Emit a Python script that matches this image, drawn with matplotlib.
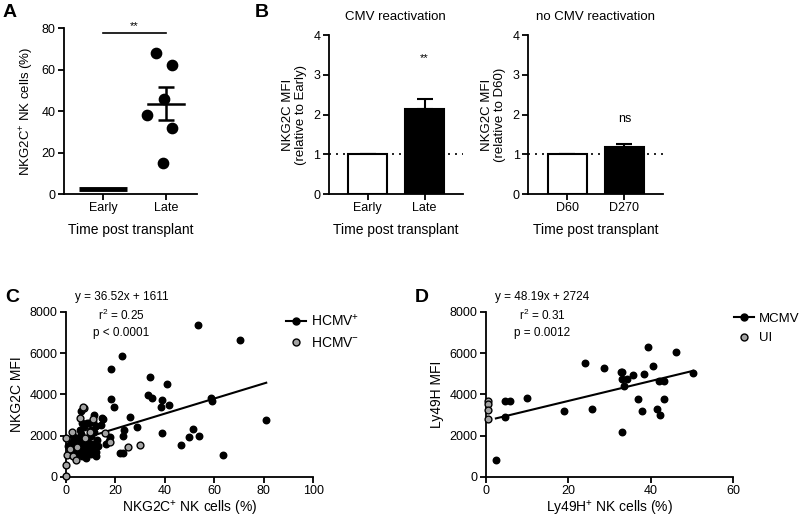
import matplotlib
matplotlib.use("Agg")
import numpy as np
import matplotlib.pyplot as plt
from matplotlib.lines import Line2D

plt.rcParams["font.family"] = ["Liberation Sans", "DejaVu Sans"]
plt.rcParams["mathtext.fontset"] = "custom"
plt.rcParams["mathtext.rm"] = "Liberation Sans"
plt.rcParams["mathtext.it"] = "Liberation Sans"
plt.rcParams["axes.linewidth"] = 1.3
plt.rcParams["xtick.major.width"] = 1.3
plt.rcParams["ytick.major.width"] = 1.3
plt.rcParams["xtick.major.size"] = 4
plt.rcParams["ytick.major.size"] = 4
plt.rcParams["xtick.labelsize"] = 9
plt.rcParams["ytick.labelsize"] = 9

# ---- data ----
# A: % NKG2C+ NK cells
a_groups = ["Early", "Late"]
a_early = [2.2, 2.4, 2.6, 2.8, 2.3, 2.7]
a_late = [68, 62, 46, 38, 32, 15]
a_late_jitter = [-0.16, 0.10, -0.03, -0.30, 0.10, -0.05]

# B: relative NKG2C MFI
b1_groups = ["Early", "Late"]
b1_means = [1.0, 2.15]
b1_err = [0.0, 0.23]
b2_groups = ["D60", "D270"]
b2_means = [1.0, 1.18]
b2_err = [0.0, 0.08]

# C: HCMV+ / HCMV- donors
c_pos_x = [53.3, 22.8, 34.0, 40.9, 33.2, 34.7, 39.0, 38.3, 41.5, 58.7, 59.0,
           25.9, 23.6, 23.2, 28.9, 38.7, 51.5, 49.7, 53.8, 46.4, 23.0, 21.9,
           70.4, 81.0, 63.7, 18.1, 18.1, 19.6, 6.2, 11.2, 14.4, 15.1, 11.1,
           9.4, 12.1, 8.4, 7.3, 10.0, 17.8, 17.5,
           1.0, 2.0, 2.5, 3.0, 3.5, 4.0, 4.0, 4.5, 5.0, 5.0, 5.5, 6.0, 6.0,
           6.5, 7.0, 7.0, 7.5, 8.0, 8.0, 8.5, 9.0, 9.5, 10.0, 10.0, 10.5,
           11.0, 11.5, 12.0, 12.5, 13.0, 14.0, 6.5, 5.8, 3.0, 12.0, 9.0, 16.0]
c_pos_y = [7385, 5882, 4832, 4509, 3990, 3814, 3717, 3378, 3475, 3845, 3700,
           2924, 2279, 1988, 2439, 2149, 2327, 1955, 1988, 1537, 1178, 1178,
           6627, 2763, 1066, 5221, 3781, 3400, 3216, 3006, 2876, 2796, 2683,
           2602, 2489, 2602, 2440, 2280, 1955, 1745,
           1500, 1200, 1700, 1000, 1400, 1300, 1800, 1100, 1500, 1900, 1250,
           1600, 2100, 1000, 1350, 1750, 1200, 1500, 900, 1900, 1300, 1650,
           1100, 2000, 1400, 1600, 2200, 1200, 1800, 1500, 2500, 2600, 2300,
           2000, 1000, 1200, 1600]
c_neg_x = [2.4, 0.1, 0.4, 0.1, 0.0, 7.1, 5.8, 9.6, 1.7, 2.8, 7.8, 10.9,
           17.9, 15.6, 25.0, 30.0, 4.4, 3.9, 6.7]
c_neg_y = [2159, 1866, 1055, 600, 30, 3327, 2873, 2191, 1380, 1006, 1866,
           2792, 1704, 2110, 1461, 1542, 1460, 844, 3400]
c_fit = (36.52, 1611)

# D: MCMV-infected vs uninfected mice
d_pos_x = [2.4, 4.7, 5.8, 4.7, 10.0, 18.9, 25.8, 24.0, 28.7, 32.7, 33.1,
           32.9, 34.2, 35.8, 33.5, 38.4, 39.2, 40.6, 46.1, 42.1, 43.1, 50.3,
           36.9, 43.1, 37.9, 41.5, 42.3, 33.1]
d_pos_y = [824, 3699, 3699, 2923, 3845, 3200, 3282, 5527, 5300, 5105, 5105,
           4751, 4751, 4945, 4412, 4993, 6317, 5381, 6045, 4654, 4654, 5042,
           3766, 3766, 3185, 3297, 3006, 2182]
d_neg_x = [0.5, 0.5, 0.5, 0.5]
d_neg_y = [3680, 3550, 3250, 2800]
d_fit = (48.19, 2724)

GRAY = "#a3a3a3"

fig = plt.figure(figsize=(8.0, 5.21), dpi=100)


def style(ax):
    ax.spines["top"].set_visible(False)
    ax.spines["right"].set_visible(False)
    ax.tick_params(direction="out", colors="black", pad=2)


# ---- panel A ----
axA = fig.add_axes([0.080, 0.6276, 0.166, 0.3186])
style(axA)
m = np.mean(a_early)
axA.plot([-0.38, 0.38], [m, m], color="black", lw=3.5, solid_capstyle="butt")
late = np.array(a_late)
axA.scatter(1 + np.array(a_late_jitter), late, s=55, color="black", zorder=3)
lm = late.mean()
sem = late.std(ddof=1) / np.sqrt(len(late))
axA.plot([1 - 0.29, 1 + 0.29], [lm, lm], color="black", lw=1.8)
axA.errorbar([1], [lm], yerr=[sem], color="black", capsize=6, elinewidth=1.8,
             capthick=1.8, fmt="none")
axA.plot([0, 1], [77.5, 77.5], color="black", lw=1.2, clip_on=False)
axA.text(0.5, 78.5, "**", ha="center", va="bottom", fontsize=8)
axA.set_xlim(-0.62, 1.49)
axA.set_ylim(0, 80)
axA.set_yticks([0, 20, 40, 60, 80])
axA.set_xticks([0, 1])
axA.set_xticklabels(a_groups)
axA.set_ylabel("NKG2C$^{+}$ NK cells (%)", fontsize=9.5, labelpad=4)
axA.set_xlabel("Time post transplant", fontsize=10, labelpad=6)


# ---- panel B ----
def bar_panel(rect, groups, means, errs, ylabel, title, mark, mark_y):
    ax = fig.add_axes(rect)
    style(ax)
    x = np.arange(len(groups))
    ax.axhline(1, color="black", lw=1.2, ls=(0, (1.2, 3.0)), zorder=1)
    ax.bar(x, means, width=0.68, color=["white", "black"], edgecolor="black",
           linewidth=1.5, zorder=3)
    ax.errorbar(x, means, yerr=[np.zeros(len(errs)), errs], fmt="none",
                color="black", capsize=6, elinewidth=1.5, capthick=1.5, zorder=2)
    ax.text(1, mark_y, mark, ha="center", va="center", fontsize=9 if mark == "ns" else 8)
    ax.set_xlim(-0.68, 1.67)
    ax.set_ylim(0, 4)
    ax.set_yticks([0, 1, 2, 3, 4])
    ax.set_xticks(x)
    ax.set_xticklabels(groups)
    ax.set_ylabel(ylabel, fontsize=9.5, labelpad=5, linespacing=1.05)
    ax.set_xlabel("Time post transplant", fontsize=10, labelpad=6)
    ax.set_title(title, fontsize=9.5, pad=11)
    return ax


bar_panel([0.411, 0.6276, 0.1675, 0.305], b1_groups, b1_means, b1_err,
          "NKG2C MFI\n(relative to Early)", "CMV reactivation", "**", 3.42)
bar_panel([0.660, 0.6276, 0.1685, 0.305], b2_groups, b2_means, b2_err,
          "NKG2C MFI\n(relative to D60)", "no CMV reactivation", "ns", 1.9)


# ---- scatter panels ----
def scatter_panel(rect, px, py, nx, ny, fit, xmax, xticks, xlabel, ylabel,
                  eq, r2, pval, txt_x, labels, leg_anchor, leg_size):
    ax = fig.add_axes(rect)
    style(ax)
    xs = np.array([min(px), max(px)])
    ax.plot(xs, fit[0] * xs + fit[1], color="black", lw=1.5, zorder=2)
    ax.scatter(px, py, s=22, color="black", zorder=3, clip_on=False)
    ax.scatter(nx, ny, s=24, color=GRAY, edgecolor="black", linewidth=1.0,
               zorder=4, clip_on=False)
    ax.set_xlim(0, xmax)
    ax.set_ylim(0, 8000)
    ax.set_xticks(xticks)
    ax.set_yticks([0, 2000, 4000, 6000, 8000])
    ax.set_xlabel(xlabel, fontsize=10, labelpad=1.5)
    ax.set_ylabel(ylabel, fontsize=10, labelpad=4)
    ax.text(txt_x, 8720, eq, ha="center", va="center", fontsize=8.5, clip_on=False)
    ax.text(txt_x, 7820, r2, ha="center", va="center", fontsize=8.5)
    ax.text(txt_x, 6990, pval, ha="center", va="center", fontsize=8.5)
    handles = [
        Line2D([], [], color="black", lw=1.5, marker="o", markersize=5),
        Line2D([], [], color="none", marker="o", markersize=5,
               markerfacecolor=GRAY, markeredgecolor="black", markeredgewidth=1.0),
    ]
    ax.legend(handles, labels, loc="upper left", bbox_to_anchor=leg_anchor,
              bbox_transform=fig.transFigure, frameon=False, fontsize=leg_size,
              handlelength=1.5, handletextpad=0.35, labelspacing=0.55,
              borderaxespad=0, borderpad=0)
    return ax


scatter_panel([0.0825, 0.0845, 0.309, 0.3167], c_pos_x, c_pos_y, c_neg_x, c_neg_y,
              c_fit, 100, [0, 20, 40, 60, 80, 100], "NKG2C$^{+}$ NK cells (%)",
              "NKG2C MFI", "y = 36.52x + 1611", "r$^{2}$ = 0.25", "p < 0.0001",
              22.5, ["HCMV$^{+}$", "HCMV$^{-}$"], (0.357, 0.400), 10)
scatter_panel([0.6075, 0.0845, 0.309, 0.3167], d_pos_x, d_pos_y, d_neg_x, d_neg_y,
              d_fit, 60, [0, 20, 40, 60], "Ly49H$^{+}$ NK cells (%)",
              "Ly49H MFI", "y = 48.19x + 2724", "r$^{2}$ = 0.31", "p = 0.0012",
              13.6, ["MCMV", "UI"], (0.918, 0.400), 9.5)

# panel letters
for lx, ly, letter in [(0.003, 0.993, "A"), (0.318, 0.993, "B"),
                       (0.006, 0.445, "C"), (0.518, 0.445, "D")]:
    fig.text(lx, ly, letter, fontsize=14, fontweight="bold", ha="left", va="top")

fig.savefig("out.png", dpi=100)
